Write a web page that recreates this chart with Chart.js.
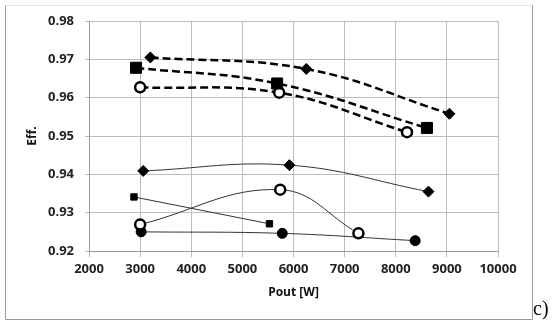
<!DOCTYPE html>
<html>
<head>
<meta charset="utf-8">
<script src="https://cdn.jsdelivr.net/npm/chart.js@4.4.1/dist/chart.umd.min.js"></script>
<style>
  html, body { margin: 0; padding: 0; background: #fff; }
  #wrap { position: relative; width: 552px; height: 325px; }
  #chart { position: absolute; left: 0; top: 0; }
  #tag {
    position: absolute; left: 533px; top: 298px;
    font: 20px "Liberation Serif", "DejaVu Serif", serif;
    line-height: 20px; color: #000;
  }
</style>
</head>
<body>
<div id="wrap">
  <canvas id="chart" width="552" height="325"></canvas>
  <span id="tag">c)</span>
</div>
<script>
/* ---- Data ---- */

// dashed curves (upper group)
const diamondDashX = [3200, 6250, 9050];
const diamondDashY = [0.9705, 0.9675, 0.9558];
const squareDashX = [2920, 5680, 8610];
const squareDashY = [0.9678, 0.9637, 0.9521];
const circleDashX = [3000, 5720, 8220];
const circleDashY = [0.9627, 0.9613, 0.9510];

// solid curves (lower group)
const diamondX = [3060, 5920, 8640];
const diamondY = [0.9409, 0.9424, 0.9355];
const squareX = [2880, 5530];
const squareY = [0.9341, 0.9271];
const ringX = [3000, 5740, 7270];
const ringY = [0.9269, 0.9360, 0.9246];
const dotX = [3020, 5780, 8380];
const dotY = [0.9250, 0.9246, 0.9227];

const xTicks = [2000, 3000, 4000, 5000, 6000, 7000, 8000, 9000, 10000];
const yTicks = [0.92, 0.93, 0.94, 0.95, 0.96, 0.97, 0.98];

/* ---- Helpers ---- */

const toPoints = (xs, ys) => xs.map((x, i) => ({ x, y: ys[i] }));

const tickFont = { family: "'Open Sans', sans-serif", size: 13, weight: "bold" };
const titleFont = { family: "'Open Sans', sans-serif", size: 12, weight: "bold" };
const gridColor = "#bdbdbd";
const ink = "#000";

const dashed = (label, xs, ys, style, radius, fill) => ({
  label,
  data: toPoints(xs, ys),
  borderColor: ink,
  borderWidth: 2.5,
  borderDash: [8, 4],
  tension: 0.4,
  pointStyle: style,
  pointRadius: radius,
  pointBorderWidth: fill ? 1 : 2.5,
  pointBackgroundColor: fill ? ink : "#fff",
  pointBorderColor: ink,
});

const solid = (label, xs, ys, style, radius, fill, tension) => ({
  label,
  data: toPoints(xs, ys),
  borderColor: "#333",
  borderWidth: 1,
  tension,
  pointStyle: style,
  pointRadius: radius,
  pointBorderWidth: fill ? 1 : 2.5,
  pointBackgroundColor: fill ? ink : "#fff",
  pointBorderColor: ink,
});

/* outer frame of the figure */
const framePlugin = {
  id: "frame",
  beforeDraw(chart) {
    const ctx = chart.ctx;
    ctx.save();
    ctx.fillStyle = "#fff";
    ctx.fillRect(0, 0, chart.width, chart.height);
    ctx.lineWidth = 1;
    ctx.strokeStyle = "#e4e4e4";
    ctx.beginPath();
    ctx.moveTo(5.5, 5.5);
    ctx.lineTo(532.5, 5.5);
    ctx.stroke();
    ctx.strokeStyle = "#9a9a9a";
    ctx.beginPath();
    ctx.moveTo(5.5, 5.5);
    ctx.lineTo(5.5, 319.5);
    ctx.lineTo(532.5, 319.5);
    ctx.lineTo(532.5, 5.5);
    ctx.stroke();
    ctx.restore();
  },
};

new Chart(document.getElementById("chart"), {
  type: "line",
  data: {
    datasets: [
      dashed("diamond dashed", diamondDashX, diamondDashY, "rectRot", 5.5, true),
      dashed("square dashed", squareDashX, squareDashY, "rect", 7.8, true),
      dashed("circle dashed", circleDashX, circleDashY, "circle", 5, false),
      solid("diamond", diamondX, diamondY, "rectRot", 5.5, true, 0.4),
      solid("square", squareX, squareY, "rect", 4.5, true, 0),
      solid("ring", ringX, ringY, "circle", 5, false, 0.4),
      solid("dot", dotX, dotY, "circle", 5, true, 0.4),
    ],
  },
  options: {
    responsive: false,
    animation: false,
    layout: { padding: { left: 20, top: 21, right: 54, bottom: 24 } },
    plugins: {
      legend: { display: false },
      tooltip: { enabled: false },
    },
    scales: {
      x: {
        type: "linear",
        min: xTicks[0],
        max: xTicks[xTicks.length - 1],
        afterBuildTicks: (s) => { s.ticks = xTicks.map((v) => ({ value: v })); },
        afterFit: (s) => { s.height = 50; },
        ticks: { font: tickFont, color: "#222", padding: 4, callback: (v) => String(v) },
        grid: { color: gridColor, tickLength: 6 },
        border: { color: "#999" },
        title: {
          display: true,
          text: "Pout [W]",
          font: titleFont,
          color: "#111",
          padding: { top: 4, bottom: 1 },
        },
      },
      y: {
        min: yTicks[0],
        max: yTicks[yTicks.length - 1],
        afterBuildTicks: (s) => { s.ticks = yTicks.map((v) => ({ value: v })); },
        afterFit: (s) => { s.width = 69; },
        ticks: {
          font: tickFont,
          color: "#222",
          padding: 11,
          callback: (v) => v.toFixed(2),
        },
        grid: { color: gridColor, tickLength: 4 },
        border: { color: "#999" },
        title: {
          display: true,
          text: "Eff.",
          font: titleFont,
          color: "#111",
          padding: { top: 5, bottom: 0 },
        },
      },
    },
  },
  plugins: [framePlugin],
});
</script>
</body>
</html>
